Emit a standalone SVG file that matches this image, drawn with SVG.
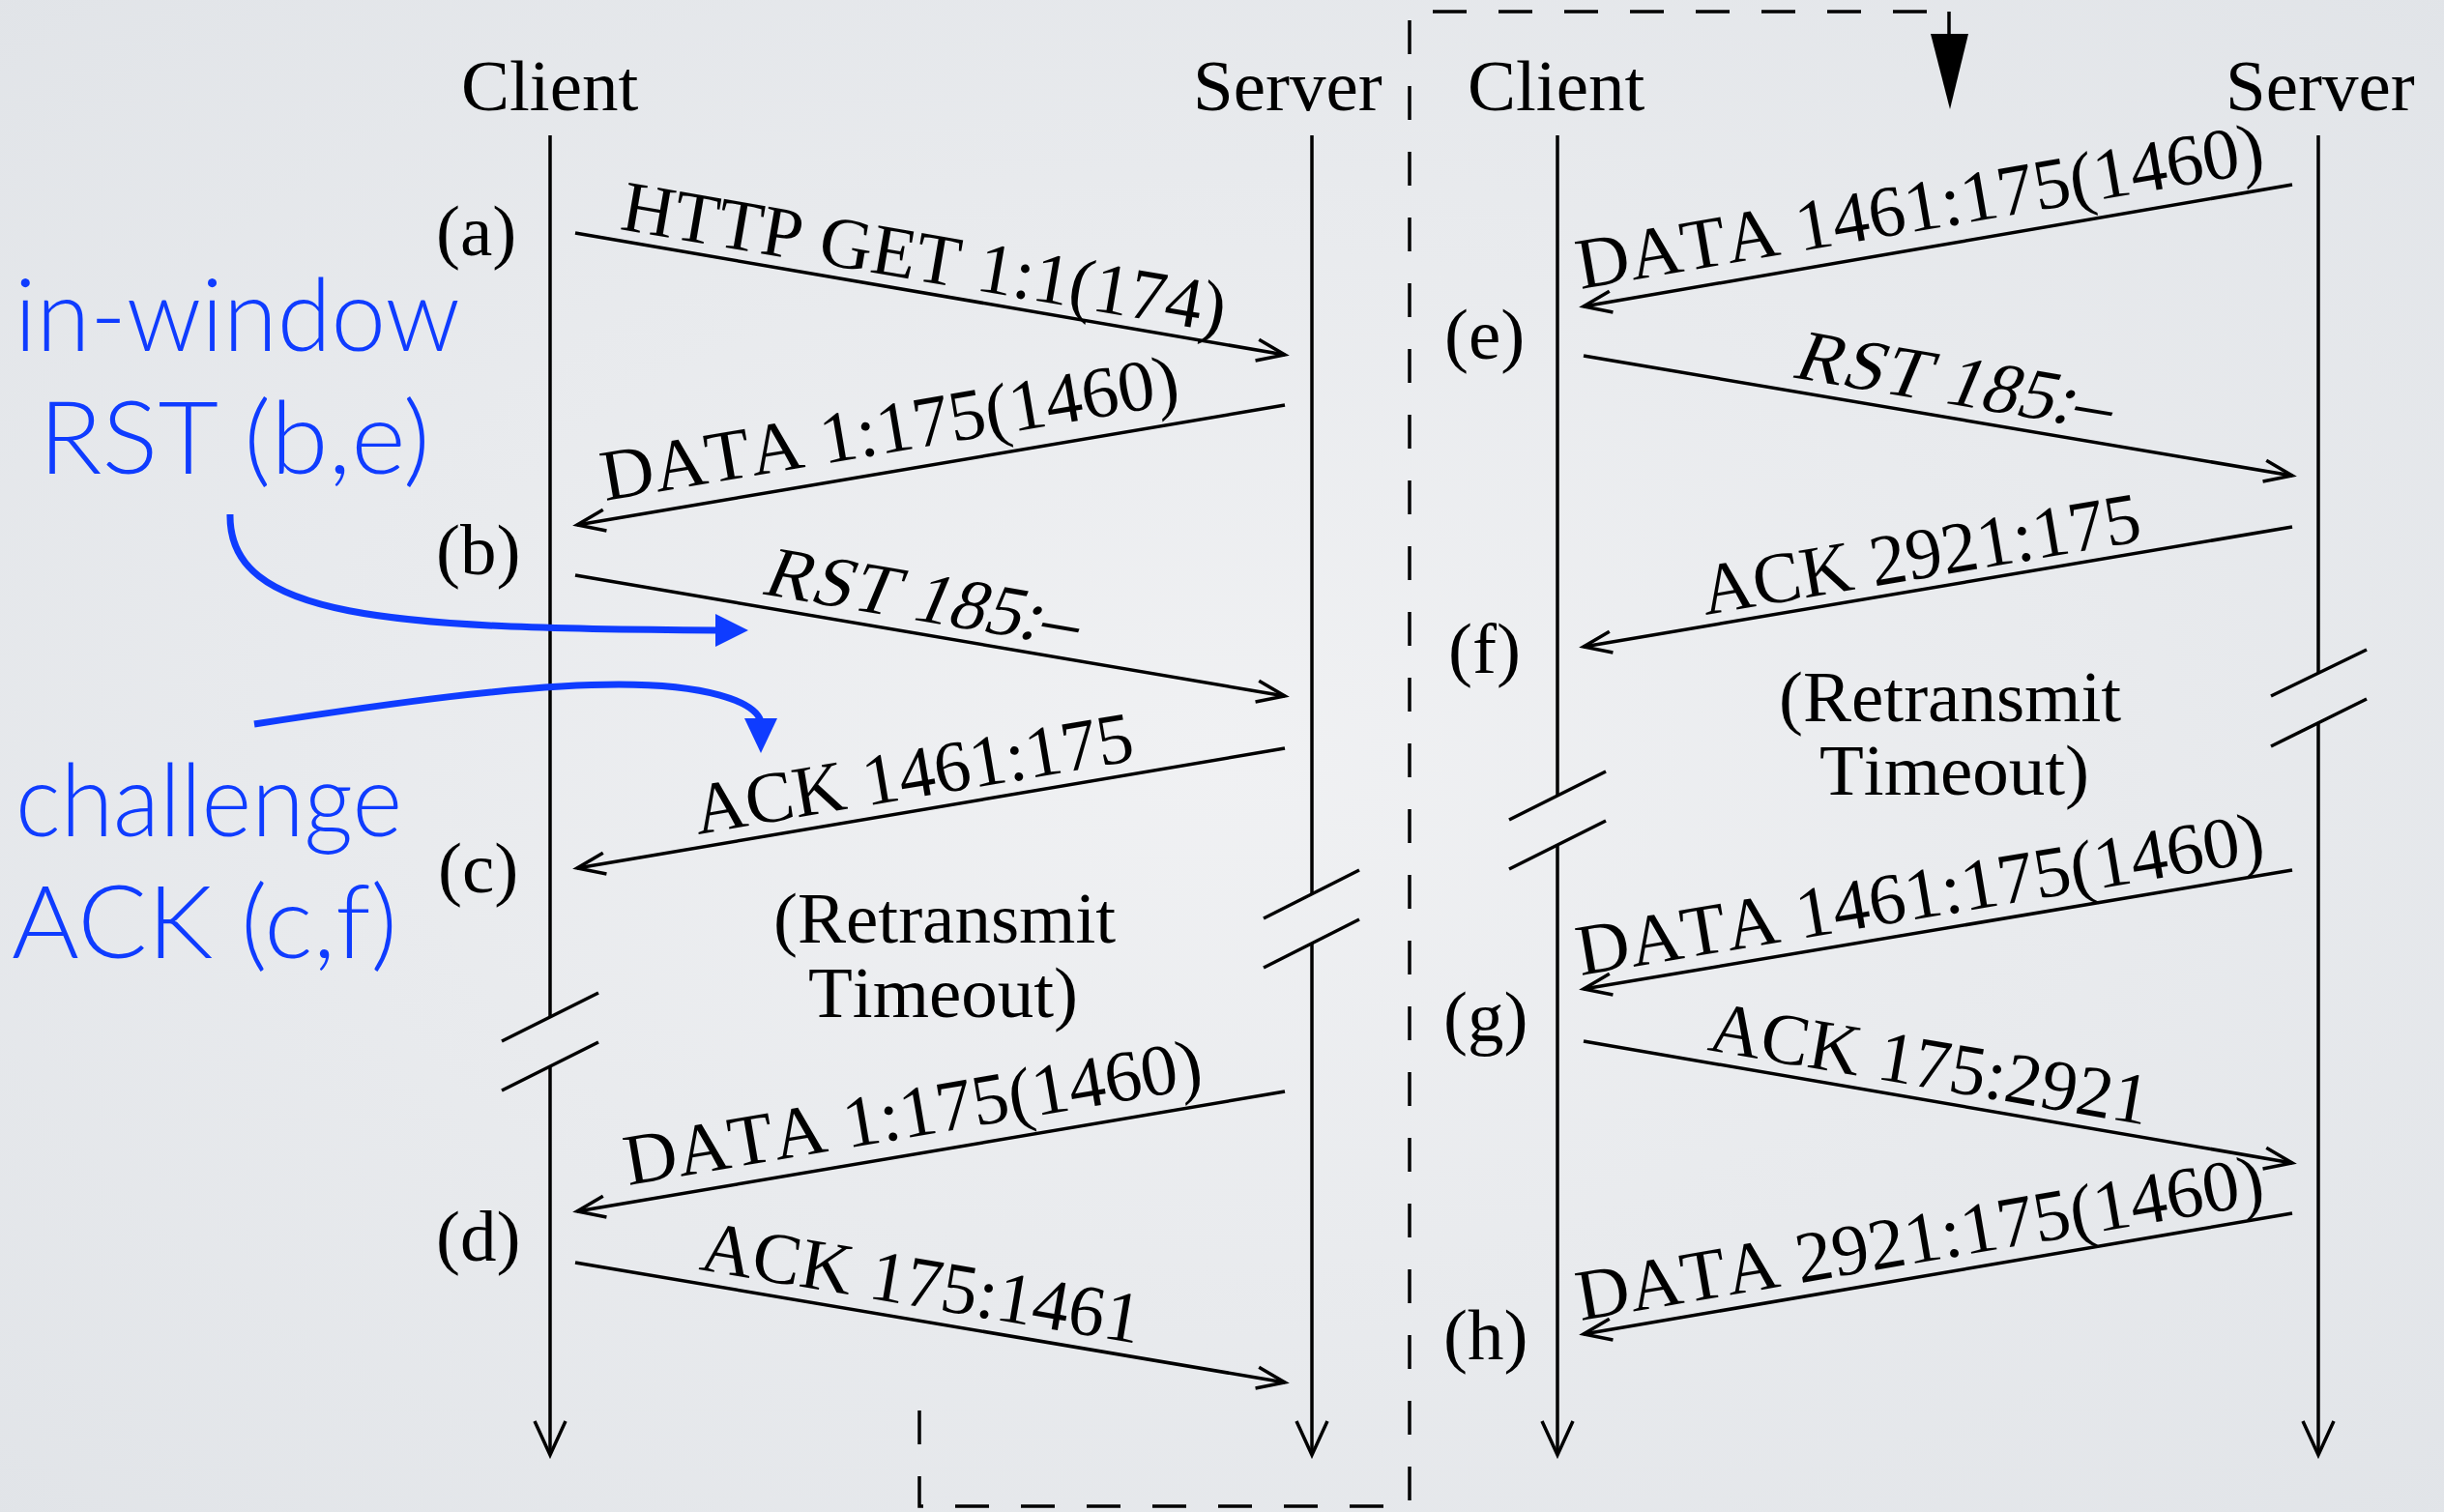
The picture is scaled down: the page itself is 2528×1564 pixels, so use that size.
<svg xmlns="http://www.w3.org/2000/svg" width="2528" height="1564" viewBox="0 0 2528 1564">
<defs>
<radialGradient id="bg" cx="50%" cy="50%" r="72%">
<stop offset="0" stop-color="#f0f1f3"/>
<stop offset="1" stop-color="#e1e4e8"/>
</radialGradient>
<marker id="ah" markerUnits="userSpaceOnUse" markerWidth="40" markerHeight="32" viewBox="-34 -16 38 32" refX="0" refY="0" orient="auto">
<path d="M-29,-11 L0,0 L-29,11" fill="none" stroke="#000" stroke-width="3.5"/>
</marker>
<marker id="lh" markerUnits="userSpaceOnUse" markerWidth="44" markerHeight="40" viewBox="-40 -20 44 40" refX="0" refY="0" orient="auto">
<path d="M-35,-16 L0,0 L-35,16" fill="none" stroke="#000" stroke-width="3.5"/>
</marker>
</defs>
<style>
.t{font-family:"Liberation Serif","Times New Roman",serif;font-size:75px;fill:#000;font-kerning:none}
.ln{stroke:#000;stroke-width:3.5;fill:none}
.life{stroke:#000;stroke-width:3.5;fill:none;marker-end:url(#lh)}
.msg{stroke:#000;stroke-width:3.5;fill:none;marker-end:url(#ah)}
.dash{stroke:#000;stroke-width:3.5;fill:none;stroke-dasharray:35 33}
.blue{font-family:Lato,"Open Sans",sans-serif;font-size:104px;fill:#0f3cff;font-weight:300}
.barrow{stroke:#0f3cff;stroke-width:7;fill:none}
.bhead{fill:#0f3cff}
</style>
<rect width="2528" height="1564" fill="url(#bg)"/>

<g id="frame">
<path class="dash" d="M951,1459 L951,1558 L1458,1558 L1458,12 L2016,12"/>
<path class="ln" d="M2016,12 L2016,36"/>
<polygon points="1997,35 2036,35 2017,113" fill="#000"/>
</g>

<g id="left-client">
<text class="t" x="477" y="114">Client</text>
<line class="ln" x1="569" y1="140" x2="569" y2="1052"/>
<line class="life" x1="569" y1="1103" x2="569" y2="1505"/>
<line class="ln" x1="519" y1="1077" x2="619" y2="1027"/>
<line class="ln" x1="519" y1="1128" x2="619" y2="1078"/>
</g>
<g id="left-server">
<text class="t" x="1234" y="114">Server</text>
<line class="ln" x1="1357" y1="140" x2="1357" y2="925"/>
<line class="life" x1="1357" y1="976" x2="1357" y2="1505"/>
<line class="ln" x1="1307" y1="950" x2="1406" y2="900"/>
<line class="ln" x1="1307" y1="1001" x2="1406" y2="951"/>
</g>
<g id="right-client">
<text class="t" x="1518" y="114">Client</text>
<line class="ln" x1="1611" y1="140" x2="1611" y2="823"/>
<line class="life" x1="1611" y1="874" x2="1611" y2="1505"/>
<line class="ln" x1="1561" y1="848" x2="1661" y2="798"/>
<line class="ln" x1="1561" y1="899" x2="1661" y2="849"/>
</g>
<g id="right-server">
<text class="t" x="2302" y="114">Server</text>
<line class="ln" x1="2398" y1="140" x2="2398" y2="696"/>
<line class="life" x1="2398" y1="748" x2="2398" y2="1505"/>
<line class="ln" x1="2349" y1="720" x2="2448" y2="672"/>
<line class="ln" x1="2349" y1="772" x2="2448" y2="723"/>
</g>

<g id="step-labels">
<text class="t" x="451" y="264">(a)</text>
<text class="t" x="451" y="594">(b)</text>
<text class="t" x="453" y="923">(c)</text>
<text class="t" x="451" y="1304">(d)</text>
<text class="t" x="1494" y="371">(e)</text>
<text class="t" x="1498" y="696">(f)</text>
<text class="t" x="1493" y="1077">(g)</text>
<text class="t" x="1493" y="1406">(h)</text>
</g>

<g id="timeouts">
<text class="t" x="800" y="975">(Retransmit</text>
<text class="t" x="836" y="1052">Timeout)</text>
<text class="t" x="1840" y="746">(Retransmit</text>
<text class="t" x="1882" y="822">Timeout)</text>
</g>

<g id="connectors">
<line class="msg" x1="595" y1="241" x2="1329" y2="367"/>
<line class="msg" x1="1329" y1="419" x2="597" y2="543"/>
<line class="msg" x1="595" y1="595" x2="1329" y2="720"/>
<line class="msg" x1="1329" y1="774" x2="597" y2="898"/>
<line class="msg" x1="1329" y1="1129" x2="597" y2="1253"/>
<line class="msg" x1="595" y1="1306" x2="1329" y2="1430"/>
<line class="msg" x1="2371" y1="191" x2="1638" y2="317"/>
<line class="msg" x1="1638" y1="368" x2="2371" y2="492"/>
<line class="msg" x1="2371" y1="545" x2="1638" y2="669"/>
<line class="msg" x1="2371" y1="900" x2="1638" y2="1023"/>
<line class="msg" x1="1638" y1="1077" x2="2371" y2="1203"/>
<line class="msg" x1="2371" y1="1255" x2="1638" y2="1380"/>
</g>

<g id="message-labels">
<text class="t" transform="translate(640,237) rotate(9.74)" textLength="633" lengthAdjust="spacingAndGlyphs">HTTP GET 1:1(174)</text>
<text class="t" transform="translate(626,518) rotate(-9.61)" textLength="605" lengthAdjust="spacingAndGlyphs">DATA 1:175(1460)</text>
<text class="t" transform="translate(786,614) rotate(9.66) skewX(-13)" textLength="327" lengthAdjust="spacingAndGlyphs">RST 185:–</text>
<text class="t" transform="translate(722,863) rotate(-9.62)" textLength="460" lengthAdjust="spacingAndGlyphs">ACK 1461:175</text>
<text class="t" transform="translate(650,1226) rotate(-9.65)" textLength="605" lengthAdjust="spacingAndGlyphs">DATA 1:175(1460)</text>
<text class="t" transform="translate(722,1313) rotate(9.59)" textLength="460" lengthAdjust="spacingAndGlyphs">ACK 175:1461</text>
<text class="t" transform="translate(1635,299) rotate(-9.76)" textLength="720" lengthAdjust="spacingAndGlyphs">DATA 1461:175(1460)</text>
<text class="t" transform="translate(1852,390) rotate(9.61) skewX(-13)" textLength="330" lengthAdjust="spacingAndGlyphs">RST 185:–</text>
<text class="t" transform="translate(1764,636) rotate(-9.62)" textLength="460" lengthAdjust="spacingAndGlyphs">ACK 2921:175</text>
<text class="t" transform="translate(1635,1009) rotate(-9.53)" textLength="720" lengthAdjust="spacingAndGlyphs">DATA 1461:175(1460)</text>
<text class="t" transform="translate(1765,1086) rotate(9.71)" textLength="460" lengthAdjust="spacingAndGlyphs">ACK 175:2921</text>
<text class="t" transform="translate(1635,1366) rotate(-9.71)" textLength="720" lengthAdjust="spacingAndGlyphs">DATA 2921:175(1460)</text>
</g>

<g id="annotation-rst">
<text class="blue" x="15" y="363" textLength="461" lengthAdjust="spacingAndGlyphs">in-window</text>
<text class="blue" x="40" y="490" textLength="405" lengthAdjust="spacingAndGlyphs">RST (b,e)</text>
<path class="barrow" d="M238,532 C236,640 400,650 742,652"/>
<polygon class="bhead" points="740,635 740,669 774,652"/>
</g>
<g id="annotation-ack">
<text class="blue" x="16" y="865" textLength="400" lengthAdjust="spacingAndGlyphs">challenge</text>
<text class="blue" x="12" y="991" textLength="399" lengthAdjust="spacingAndGlyphs">ACK (c,f)</text>
<path class="barrow" d="M263,749 C400,728 540,708 640,708 C730,708 780,725 787,746"/>
<polygon class="bhead" points="770,743 804,743 787,779"/>
</g>
</svg>
